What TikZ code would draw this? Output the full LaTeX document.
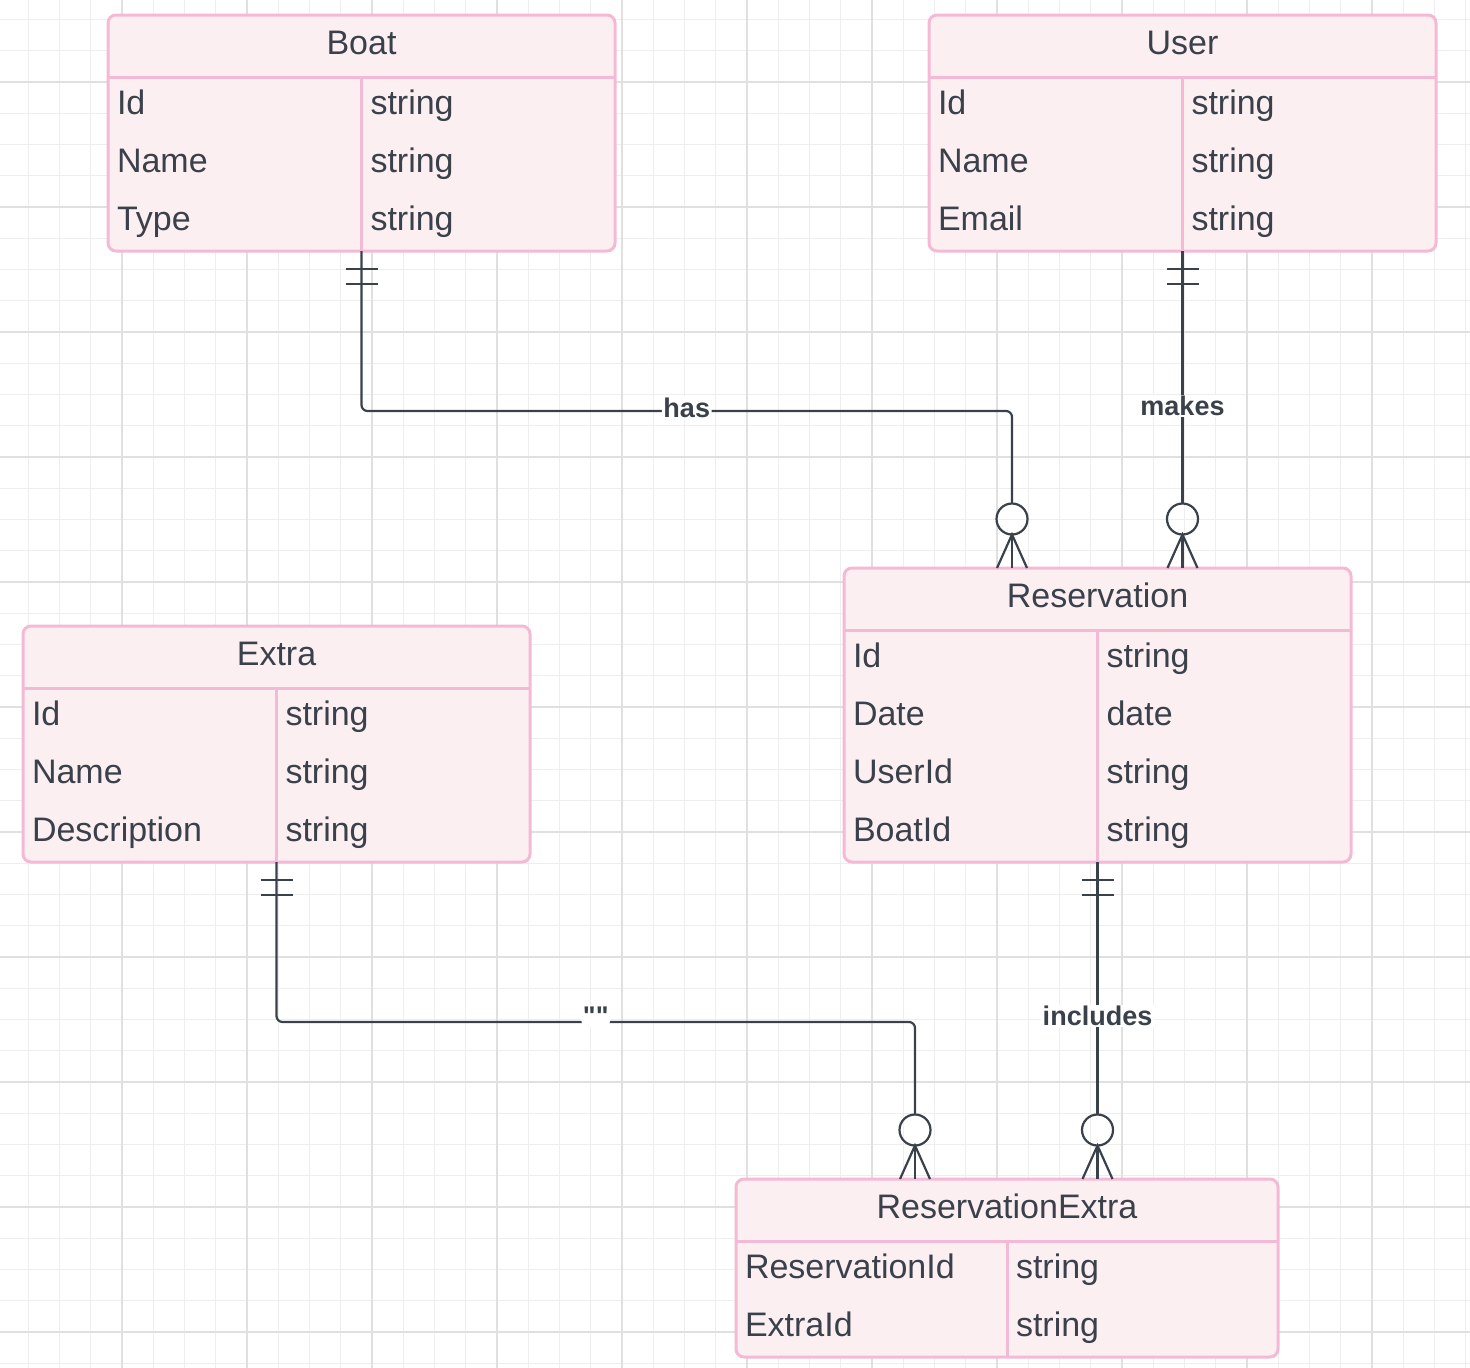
\documentclass[tikz,border=0pt]{standalone}
\usepackage{fontspec}
\setmainfont{Liberation Sans}
\newfontfamily\qfont{Liberation Sans}
\usetikzlibrary{calc}
\definecolor{gridminor}{HTML}{EEEEEE}
\definecolor{gridmajor}{HTML}{E0E0E0}
\definecolor{boxfill}{HTML}{FCEFF1}
\definecolor{boxline}{HTML}{F4BAD5}
\definecolor{ink}{HTML}{3A414A}
\tikzset{
  gminor/.style={draw=gridminor, line width=1},
  gmajor/.style={draw=gridmajor, line width=1.1},
  ebox/.style={draw=boxline, fill=boxfill, line width=3, rounded corners=8, inner sep=0, outer sep=0},
  eline/.style={draw=boxline, line width=3},
  etxt/.style={text=ink, inner sep=0, outer sep=0, font=\fontsize{34}{40}\selectfont},
  conn/.style={draw=ink, line width=2.2},
  lbl/.style={fill=white, text=ink, inner sep=1.5, font=\fontsize{27}{32}\selectfont\bfseries},
}
\newcommand{\erbox}[7]{%
  \node[ebox, anchor=north west, minimum width=#4, minimum height=#5] (#1) at (#2,#3) {};
  \draw[eline] ($(#1.north west)+(0,62)$) -- ($(#1.north east)+(0,62)$);
  \draw[eline] ($(#1.north)+(0,62)$) -- (#1.south);
  \node[etxt, anchor=base] (#1-t) at ($(#1.north)+(0,39)$) {#6};
  \foreach \k/\v [count=\i] in {#7} {
    \node[etxt, anchor=base west] (#1-k\i) at ($(#1.north west)+(9,41+58*\i)$) {\k};
    \node[etxt, anchor=base west] (#1-v\i) at ($(#1.north)+(9,41+58*\i)$) {\v};
  }%
}
\newcommand{\zmany}[1]{%
  \draw[conn] ($(#1)+(0,-49)$) circle[radius=15.5];
  \draw[conn] ($(#1)+(-15,0)$) -- ($(#1)+(0,-33.5)$) -- ($(#1)+(15,0)$);
  \draw[conn] ($(#1)+(0,-33.5)$) -- (#1);
}
\newcommand{\oneone}[1]{%
  \draw[conn] ($(#1)+(-16,18)$) -- ($(#1)+(16,18)$);
  \draw[conn] ($(#1)+(-16,33)$) -- ($(#1)+(16,33)$);
}
\begin{document}
\begin{tikzpicture}[x=1pt,y=-1pt]
\useasboundingbox (0,0) rectangle (1470,1368);
\fill[white] (0,0) rectangle (1470,1368);
% grid
\foreach \i in {0,...,47} \draw[gminor] ({-3+31.25*\i},0) -- ({-3+31.25*\i},1368);
\foreach \i in {0,...,44} \draw[gminor] (0,{-11.75+31.25*\i}) -- (1470,{-11.75+31.25*\i});
\foreach \i in {0,...,12} \draw[gmajor] ({-3+125*\i},0) -- ({-3+125*\i},1368);
\foreach \i in {1,...,11} \draw[gmajor] (0,{-43+125*\i}) -- (1470,{-43+125*\i});

% entities
\erbox{boat}{108}{15}{507}{236}{Boat}{Id/string,Name/string,Type/string}
\erbox{user}{929}{15}{507}{236}{User}{Id/string,Name/string,Email/string}
\erbox{res}{844}{568}{507}{294}{Reservation}{Id/string,Date/date,UserId/string,BoatId/string}
\erbox{extra}{23}{626}{507}{236}{Extra}{Id/string,Name/string,Description/string}
\erbox{rex}{736}{1179}{542}{178}{ReservationExtra}{ReservationId/string,ExtraId/string}

% anchor points
\coordinate (resA) at ($(res.north west)+(168,0)$);
\coordinate (resB) at (user.south |- res.north);
\coordinate (rexA) at ($(rex.north west)+(179,0)$);
\coordinate (rexB) at (res.south |- rex.north);

% Boat -> Reservation
\path (boat.south) ++(0,160) coordinate (hasL);
\draw[conn, rounded corners=6] (boat.south) -- (hasL) -- node[lbl, yshift=3] {has} (hasL -| resA) -- ($(resA)+(0,-64.5)$);
\oneone{boat.south}
\zmany{resA}

% User -> Reservation
\draw[conn] (user.south) -- node[lbl, pos=0.614] {makes} ($(resB)+(0,-64.5)$);
\oneone{user.south}
\zmany{resB}

% Extra -> ReservationExtra
\path (extra.south) ++(0,160) coordinate (exL);
\draw[conn, rounded corners=6] (extra.south) -- (exL) -- node[lbl, yshift=6] {\qfont\bfseries ""} (exL -| rexA) -- ($(rexA)+(0,-64.5)$);
\oneone{extra.south}
\zmany{rexA}

% Reservation -> ReservationExtra
\draw[conn] (res.south) -- node[lbl, pos=0.61] {includes} ($(rexB)+(0,-64.5)$);
\oneone{res.south}
\zmany{rexB}
\end{tikzpicture}
\end{document}
